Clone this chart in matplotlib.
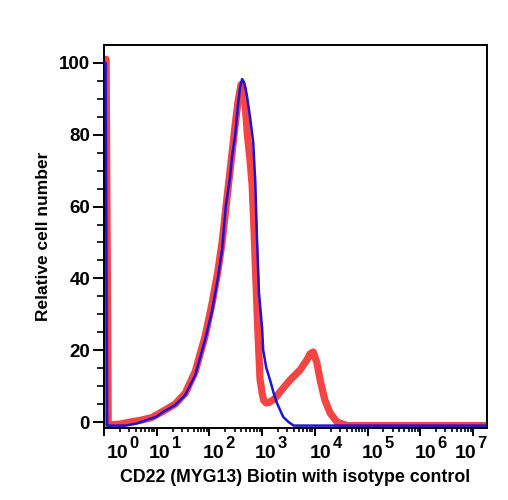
import numpy as np
import matplotlib
matplotlib.use('Agg')
import matplotlib.pyplot as plt
from matplotlib import transforms
from matplotlib.ticker import FixedLocator, LogLocator, NullFormatter

plt.rcParams['font.family'] = ['Liberation Sans', 'DejaVu Sans']
plt.rcParams['font.weight'] = 'bold'

# log10 of fluorescence, relative cell number
red_lx = [0.0, 0.04, 0.08, 0.3, 0.5, 0.7, 0.9, 1.12, 1.35, 1.54, 1.73, 1.92, 2.05, 2.16,
          2.24, 2.33, 2.43, 2.49, 2.54, 2.60, 2.64, 2.68, 2.72, 2.77, 2.81, 2.85, 2.88,
          2.92, 2.96, 3.00, 3.03, 3.08, 3.14, 3.24, 3.34, 3.53, 3.72, 3.85, 3.91, 3.97,
          4.04, 4.10, 4.19, 4.29, 4.42, 4.61, 7.3]
red_y = [101, 101, -0.8, -0.6, 0, 0.5, 1.2, 3.0, 5.0, 8, 14, 24, 33, 42,
         50, 62, 75, 83, 89, 94, 93, 88, 80, 73, 66, 52, 40,
         25, 12, 8, 6, 5.3, 5.5, 6.5, 8.4, 11.7, 14.5, 17.3, 19, 19.5,
         16.4, 11.7, 6.1, 2.5, 0, -1, -1]

blue_lx = [0.0, 0.03, 0.06, 0.4, 0.6, 0.8, 1.0, 1.12, 1.35, 1.54, 1.73, 1.92, 2.05, 2.16,
           2.24, 2.31, 2.39, 2.43, 2.49, 2.54, 2.58, 2.62, 2.66, 2.71, 2.77, 2.83, 2.87,
           2.90, 2.94, 3.00, 3.02, 3.08, 3.15, 3.22, 3.28, 3.40, 3.50, 3.60, 7.3]
blue_y = [100, 100, -1.0, -1.0, -0.5, 0.5, 1.5, 2.8, 4.7, 7.5, 13, 23, 31, 40,
          48, 60, 68, 74, 80, 88, 93, 95.5, 94.5, 91, 85, 78, 67,
          52, 36, 26, 20, 15, 11.7, 8, 5.3, 1.4, 0, -1, -1]

xticks_exp = [0, 1, 2, 3, 4, 5, 6, 7]
xlabel_shift = [19, 9, 10, 9.5, 12, 11, 11, -2]  # px, label centres sit right of ticks
yticks = [0, 20, 40, 60, 80, 100]

fig = plt.figure(figsize=(5.08, 5), dpi=100)
ax = fig.add_axes([104 / 508, 1 - 428 / 500, 383 / 508, 383 / 500])

ax.plot(10 ** np.array(red_lx), red_y, color='#f43a3a', lw=5.2, alpha=0.95,
        solid_joinstyle='round', zorder=2)
ax.plot(10 ** np.array(blue_lx), blue_y, color='#1c14d2', lw=1.8, zorder=3)

ax.set_xscale('log')
ax.set_xlim(1, 10 ** 7.266)
ax.set_ylim(-1.67, 105.0)

ax.xaxis.set_major_locator(FixedLocator([10 ** e for e in xticks_exp]))
ax.xaxis.set_major_formatter(NullFormatter())
ax.xaxis.set_minor_locator(LogLocator(base=10, subs=np.arange(2, 10), numticks=20))
ax.xaxis.set_minor_formatter(NullFormatter())
ax.set_yticks(yticks)
ax.set_yticks(np.arange(0, 105, 5), minor=True)

ax.tick_params(axis='both', which='major', labelsize=13.5, width=1.4, direction='out')
ax.tick_params(axis='x', which='major', length=6)
ax.tick_params(axis='x', which='minor', length=3, width=1.2)
ax.tick_params(axis='y', which='major', length=8, pad=2)
ax.tick_params(axis='y', which='minor', length=5, width=1.2)

# decade labels: big "10" with a large superscript, like the original software
xy_tr = transforms.blended_transform_factory(ax.transData, ax.transAxes)
for e, dx in zip(xticks_exp, xlabel_shift):
    base_tr = xy_tr + transforms.ScaledTranslation((dx + 5) / 100, 0, fig.dpi_scale_trans)
    sup_tr = xy_tr + transforms.ScaledTranslation((dx + 6) / 100, 0, fig.dpi_scale_trans)
    ax.text(10 ** e, -30 / 383, '10', transform=base_tr, ha='right', va='baseline',
            fontsize=14, fontweight='bold', clip_on=False)
    ax.text(10 ** e, -20 / 383, str(e), transform=sup_tr, ha='left', va='baseline',
            fontsize=12, fontweight='bold', clip_on=False)

for s in ax.spines.values():
    s.set_linewidth(1.4)

ax.set_xlabel('CD22 (MYG13) Biotin with isotype control', fontsize=12.8, fontweight='bold', labelpad=20)
ax.set_ylabel('Relative cell number', fontsize=12.5, fontweight='bold', labelpad=6)

fig.savefig('out.png', dpi=100)
